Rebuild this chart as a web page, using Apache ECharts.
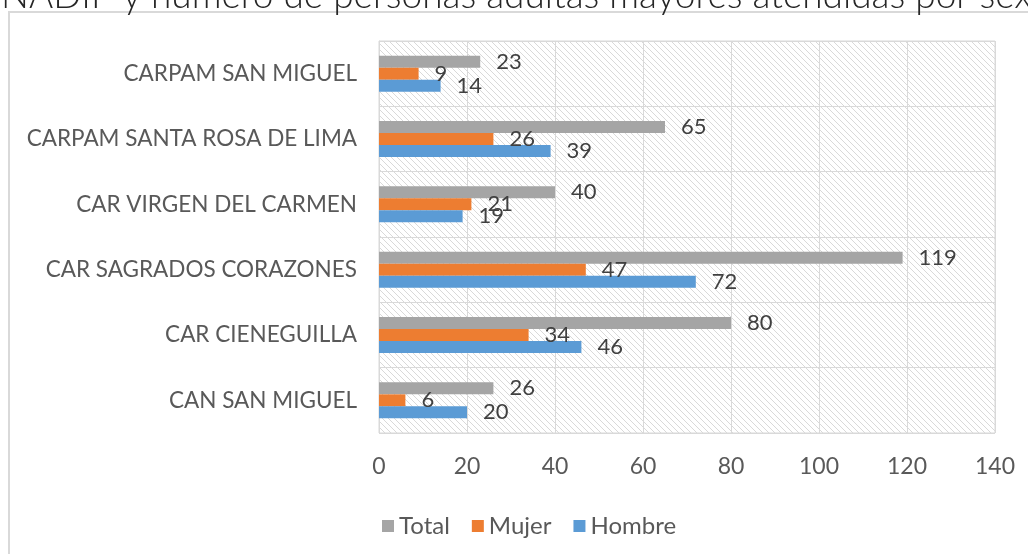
<!DOCTYPE html>
<html lang="es">
<head>
    <meta charset="UTF-8">
    <title>Personas adultas mayores atendidas por sexo</title>
    <script src="https://cdn.jsdelivr.net/npm/echarts@6/dist/echarts.min.js"></script>
    <style>
        html, body { margin: 0; padding: 0; background: #fff; }
        #chart { width: 1028px; height: 554px; }
    </style>
</head>
<body>
    <div id="chart"></div>
    <script>
        // datos (de arriba hacia abajo)
        const categories = [
            'CARPAM SAN MIGUEL',
            'CARPAM SANTA ROSA DE LIMA',
            'CAR VIRGEN DEL CARMEN',
            'CAR SAGRADOS CORAZONES',
            'CAR CIENEGUILLA',
            'CAN SAN MIGUEL'
        ];
        const total = [23, 65, 40, 119, 80, 26];
        const mujer = [9, 26, 21, 47, 34, 6];
        const hombre = [14, 39, 19, 72, 46, 20];
        const legendNames = ['Total', 'Mujer', 'Hombre'];

        // trama diagonal del fondo
        function hatch() {
            const c = document.createElement('canvas');
            c.width = 6;
            c.height = 6;
            const ctx = c.getContext('2d');
            ctx.fillStyle = '#fff';
            ctx.fillRect(0, 0, 6, 6);
            ctx.strokeStyle = '#d9d9d9';
            ctx.lineWidth = 1;
            ctx.beginPath();
            ctx.moveTo(-1, -1); ctx.lineTo(7, 7);
            ctx.moveTo(-1, 5); ctx.lineTo(1, 7);
            ctx.moveTo(5, -1); ctx.lineTo(7, 1);
            ctx.stroke();
            return c;
        }

        const font = 'Lato';
        const chart = echarts.init(document.getElementById('chart'));

        const labelStyle = {
            show: true,
            position: 'right',
            distance: 16,
            fontFamily: font,
            fontSize: 22,
            color: '#404040'
        };

        chart.setOption({
            animation: false,
            title: {
                text: 'NADIP y número de personas adultas mayores atendidas por sexo',
                left: -4,
                top: -27,
                textStyle: {
                    fontFamily: font,
                    fontWeight: 300,
                    fontSize: 37,
                    color: '#262626'
                }
            },
            graphic: [
                {
                    type: 'rect',
                    shape: { x: 9, y: 12, width: 1060, height: 580 },
                    style: { fill: 'none', stroke: '#d9d9d9', lineWidth: 2 },
                    z: -1
                }
            ],
            legend: {
                data: legendNames,
                left: 377,
                top: 509,
                itemWidth: 12,
                itemHeight: 12,
                itemGap: 22,
                icon: 'rect',
                textStyle: { fontFamily: font, fontSize: 24, color: '#595959' }
            },
            grid: {
                left: 379,
                right: 33,
                top: 41,
                bottom: 121,
                show: true,
                borderColor: '#d9d9d9',
                borderWidth: 1,
                backgroundColor: { image: hatch(), repeat: 'repeat' }
            },
            xAxis: {
                type: 'value',
                min: 0,
                max: 140,
                interval: 20,
                axisLine: { show: false },
                axisTick: { show: false },
                splitLine: { lineStyle: { color: '#d9d9d9', width: 1 } },
                axisLabel: { fontFamily: font, fontSize: 23, color: '#595959', margin: 22 }
            },
            yAxis: {
                type: 'category',
                inverse: true,
                data: categories,
                axisLine: { lineStyle: { color: '#d9d9d9' } },
                axisTick: { length: 7, lineStyle: { color: '#d9d9d9' } },
                splitLine: { show: true, lineStyle: { color: '#d9d9d9' } },
                axisLabel: { fontFamily: font, fontSize: 22.5, color: '#595959', margin: 22 }
            },
            series: [
                {
                    name: 'Total', type: 'bar', data: total,
                    barWidth: 12, barGap: '0%',
                    itemStyle: { color: '#a5a5a5' },
                    label: labelStyle
                },
                {
                    name: 'Mujer', type: 'bar', data: mujer,
                    barWidth: 12, barGap: '0%',
                    itemStyle: { color: '#ed7d31' },
                    label: labelStyle
                },
                {
                    name: 'Hombre', type: 'bar', data: hombre,
                    barWidth: 12, barGap: '0%',
                    itemStyle: { color: '#5b9bd5' },
                    label: labelStyle
                }
            ]
        });
    </script>
</body>
</html>
